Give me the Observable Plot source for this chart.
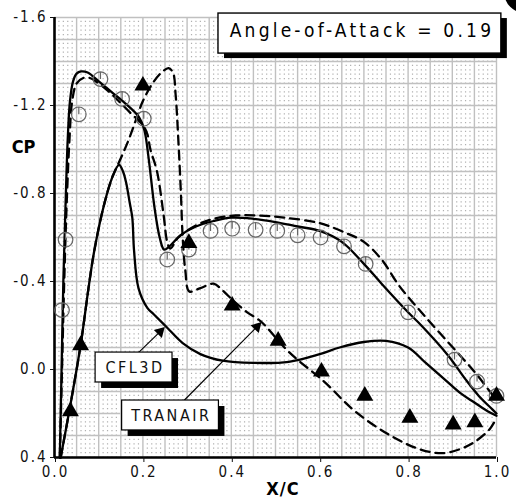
<!DOCTYPE html>
<html><head><meta charset="utf-8">
<script src="https://cdn.jsdelivr.net/npm/d3@7"></script>
<script src="https://cdn.jsdelivr.net/npm/@observablehq/plot@0.6"></script>
<style>
body{margin:0;background:#fff;}
#wrap{position:relative;width:516px;height:499px;overflow:hidden;}
#blob{position:absolute;left:504px;top:-29px;width:42px;height:42px;border-radius:50%;background:#000;}
</style></head><body><div id="wrap"><div id="blob"></div></div>
<script>
// ---- tick labels ----
const xTicks = [0, 0.2, 0.4, 0.6, 0.8, 1.0];
const yTicks = [-1.6, -1.2, -0.8, -0.4, 0.0, 0.4];

// ---- CFL3D (solid) upper curve ----
const cfl3dUpperX = [0.012,0.016,0.020,0.025,0.030,0.035,0.042,0.050,0.060,0.075,0.10,0.13,0.16,0.19,0.203,0.213,0.226,0.238,0.248,0.26,0.285,0.32,0.36,0.40,0.45,0.50,0.55,0.60,0.65,0.70,0.74,0.80,0.83,0.89,0.93,0.96,0.99,1.0];
const cfl3dUpperY = [0.40,0.0,-0.40,-0.75,-1.05,-1.22,-1.31,-1.345,-1.355,-1.35,-1.31,-1.26,-1.21,-1.15,-1.09,-0.96,-0.74,-0.60,-0.545,-0.56,-0.61,-0.65,-0.675,-0.69,-0.685,-0.67,-0.65,-0.63,-0.58,-0.48,-0.39,-0.26,-0.20,-0.065,0.045,0.12,0.18,0.20];

// ---- CFL3D (solid) lower curve ----
const cfl3dLowerX = [0.014,0.036,0.059,0.078,0.09,0.111,0.13,0.146,0.155,0.162,0.170,0.176,0.180,0.190,0.210,0.225,0.255,0.29,0.33,0.38,0.45,0.53,0.60,0.645,0.70,0.75,0.80,0.84,0.88,0.92,0.95,0.98,1.0];
const cfl3dLowerY = [0.40,0.16,-0.11,-0.385,-0.54,-0.74,-0.87,-0.93,-0.90,-0.85,-0.76,-0.69,-0.54,-0.37,-0.28,-0.25,-0.19,-0.12,-0.07,-0.04,-0.03,-0.035,-0.07,-0.10,-0.125,-0.13,-0.10,-0.03,0.04,0.11,0.15,0.19,0.21];

// ---- TRANAIR (dashed) upper curve ----
const tranairUpperX = [0.012,0.017,0.022,0.028,0.034,0.040,0.050,0.065,0.080,0.10,0.13,0.17,0.20,0.210,0.217,0.232,0.247,0.255,0.262,0.28,0.32,0.36,0.41,0.46,0.52,0.60,0.66,0.70,0.74,0.78,0.83,0.89,0.95,0.985,1.0];
const tranairUpperY = [0.40,0.0,-0.40,-0.78,-1.05,-1.22,-1.30,-1.325,-1.325,-1.30,-1.25,-1.17,-1.11,-1.07,-1.00,-0.90,-0.70,-0.58,-0.55,-0.60,-0.655,-0.685,-0.70,-0.70,-0.69,-0.665,-0.62,-0.58,-0.50,-0.38,-0.26,-0.125,0.01,0.10,0.14];

// ---- TRANAIR (dashed) lower curve ----
const tranairLowerX = [0.014,0.036,0.059,0.078,0.09,0.111,0.13,0.15,0.165,0.18,0.20,0.225,0.245,0.258,0.268,0.274,0.280,0.286,0.290,0.296,0.305,0.33,0.36,0.38,0.406,0.436,0.466,0.53,0.61,0.68,0.76,0.83,0.88,0.92,0.95,0.985,1.0];
const tranairLowerY = [0.40,0.16,-0.11,-0.385,-0.54,-0.74,-0.87,-0.96,-1.03,-1.11,-1.22,-1.31,-1.355,-1.37,-1.35,-1.25,-1.05,-0.80,-0.60,-0.45,-0.355,-0.37,-0.39,-0.36,-0.31,-0.26,-0.22,-0.08,0.055,0.19,0.30,0.365,0.38,0.36,0.33,0.27,0.22];

// ---- experiment, circles ----
const circleX = [0.017,0.025,0.055,0.104,0.153,0.202,0.255,0.304,0.353,0.402,0.455,0.504,0.55,0.602,0.655,0.704,0.80,0.905,0.956,1.0];
const circleY = [-0.27,-0.59,-1.16,-1.32,-1.23,-1.14,-0.50,-0.545,-0.63,-0.64,-0.635,-0.63,-0.61,-0.60,-0.56,-0.48,-0.26,-0.045,0.055,0.12];

// ---- experiment, triangles ----
const triangleX = [0.036,0.059,0.20,0.304,0.402,0.506,0.604,0.702,0.804,0.902,0.951,1.0];
const triangleY = [0.19,-0.11,-1.29,-0.575,-0.29,-0.13,0.01,0.12,0.22,0.25,0.24,0.12];

const title = "Angle-of-Attack = 0.19";
const labelCFL = "CFL3D";
const labelTRAN = "TRANAIR";

const zip = (xs, ys) => xs.map((x, i) => ({x, y: ys[i]}));
const cfl3dUpper = zip(cfl3dUpperX, cfl3dUpperY);
const cfl3dLower = zip(cfl3dLowerX, cfl3dLowerY);
const tranairUpper = zip(tranairUpperX, tranairUpperY);
const tranairLower = zip(tranairLowerX, tranairLowerY);
const circles = zip(circleX, circleY);
const triangles = zip(triangleX, triangleY);

const gridX = d3.range(0, 21).map(k => k / 20);
const gridY = d3.range(0, 21).map(k => -1.6 + k / 10);
const dotX = d3.range(0, 101).filter(k => k % 5).map(k => k / 100);

const circTick = {draw(ctx, size) {
  const r = Math.sqrt(size / Math.PI);
  ctx.moveTo(r, 0); ctx.arc(0, 0, r, 0, 2 * Math.PI);
  ctx.moveTo(0, -r); ctx.lineTo(0, 0);
}};

const FONT = '"DejaVu Sans Condensed","DejaVu Sans",sans-serif';
const lineOpts = {x: "x", y: "y", stroke: "#000", strokeWidth: 2.3, curve: "catmull-rom"};
const dashOpts = {...lineOpts, strokeDasharray: "9,6"};

const chart = Plot.plot({
  width: 516, height: 499,
  marginLeft: 54, marginRight: 20, marginTop: 17, marginBottom: 42,
  style: {fontFamily: FONT, fontStretch: "condensed", fontSize: "15px", color: "#111", background: "transparent", overflow: "visible"},
  x: {domain: [0, 1]},
  y: {domain: [0.4, -1.6]},
  marks: [
    Plot.ruleX(dotX, {y1: -1.6, y2: 0.4, stroke: "#b0b0b0", strokeWidth: 1.2, strokeDasharray: "1.2,3.2", strokeDashoffset: 0.6}),
    Plot.ruleX(gridX, {y1: -1.6, y2: 0.4, stroke: "#c0c0c0", strokeWidth: 1.4}),
    Plot.ruleY(gridY, {x1: 0, x2: 1, stroke: "#c0c0c0", strokeWidth: 1.4}),
    Plot.ruleX([0], {y1: -1.6, y2: 0.4, stroke: "#000", strokeWidth: 2.6}),
    Plot.ruleY([0.4], {x1: 0, x2: 1, stroke: "#000", strokeWidth: 2.6}),
    Plot.axisY({ticks: yTicks, tickFormat: d => d.toFixed(1), tickSize: 4, tickPadding: 3, label: null, fontSize: 15}),
    Plot.axisX({ticks: xTicks, tickFormat: d => d.toFixed(1), tickSize: 5, tickPadding: 4, label: null, fontSize: 15, dx: 1}),
    Plot.line(cfl3dUpper, lineOpts),
    Plot.line(cfl3dLower, lineOpts),
    Plot.line(tranairUpper, dashOpts),
    Plot.line(tranairLower, dashOpts),
    Plot.dot(circles, {x: "x", y: "y", symbol: circTick, r: 7.3, stroke: "#666", strokeWidth: 1.2, fill: "none"}),
    Plot.dot(triangles, {x: "x", y: "y", symbol: "triangle", r: 6.3, fill: "#000"}),
    // annotation arrows
    Plot.link([0], {x1: 0.19, y1: -0.077, x2: 0.239, y2: -0.172, stroke: "#000", strokeWidth: 1.2}),
    Plot.dot([0], {x: 0.239, y: -0.172, symbol: "triangle", r: 4.2, rotate: 45, fill: "#000"}),
    Plot.link([0], {x1: 0.293, y1: 0.141, x2: 0.458, y2: -0.194, stroke: "#000", strokeWidth: 1.2}),
    Plot.dot([0], {x: 0.458, y: -0.194, symbol: "triangle", r: 4.2, rotate: 44, fill: "#000"}),
    // CFL3D box
    Plot.rect([0], {x1: 0.093, x2: 0.267, y1: -0.077, y2: 0.059, fill: "#000", dx: 6, dy: 6}),
    Plot.rect([0], {x1: 0.093, x2: 0.267, y1: -0.077, y2: 0.059, fill: "#fff", stroke: "#000", strokeWidth: 1.2}),
    Plot.text([labelCFL], {x: 0.18, y: -0.009, text: d => d, fontSize: 16, dx: 1, fill: "#111"}),
    // TRANAIR box
    Plot.rect([0], {x1: 0.153, x2: 0.372, y1: 0.141, y2: 0.277, fill: "#000", dx: 6, dy: 6}),
    Plot.rect([0], {x1: 0.153, x2: 0.372, y1: 0.141, y2: 0.277, fill: "#fff", stroke: "#000", strokeWidth: 1.2}),
    Plot.text([labelTRAN], {x: 0.262, y: 0.212, text: d => d, fontSize: 16, dx: 1, fill: "#111"}),
    // title box
    Plot.rect([0], {x1: 0.371, x2: 1.011, y1: -1.618, y2: -1.436, fill: "#000", dx: 6, dy: 5}),
    Plot.rect([0], {x1: 0.371, x2: 1.011, y1: -1.618, y2: -1.436, fill: "#fff", stroke: "#000", strokeWidth: 1.4}),
    Plot.text([title], {x: 0.692, y: -1.537, text: d => d, fontSize: 19, dx: 1.6, fill: "#000"}),
    // axis labels
    Plot.text(["CP"], {x: 0, y: -1.01, dx: -31, text: d => d, fontSize: 18, fontWeight: "bold", fill: "#000"}),
    Plot.text(["X/C"], {x: 0.517, y: 0.4, dy: 32, text: d => d, fontSize: 18, fontWeight: "bold", fill: "#000"})
  ]
});
const spacing = new Map([[title, "3.2px"], [labelCFL, "2.5px"], [labelTRAN, "2.5px"], ["CP", "0px"], ["X/C", "1px"]]);
d3.select(chart).selectAll("text").each(function() {
  const t = this.textContent;
  this.style.letterSpacing = spacing.has(t) ? spacing.get(t) : "2px";
});
document.getElementById("wrap").prepend(chart);
</script>
</body></html>
